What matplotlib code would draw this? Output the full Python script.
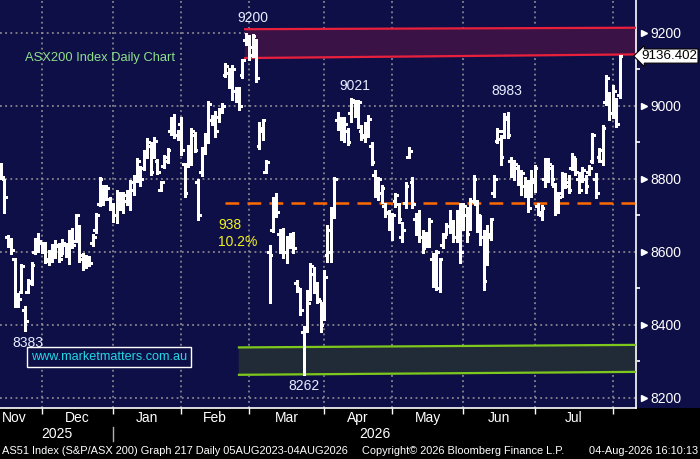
import matplotlib
matplotlib.use("Agg")
import matplotlib.pyplot as plt
import matplotlib.transforms as mtransforms
from matplotlib.patches import Rectangle

plt.rcParams["font.family"] = ["Liberation Sans", "DejaVu Sans"]

# daily OHLC for the ASX200, Nov 2025 - 04 Aug 2026
highs = [8844, 8800, 8646, 8638, 8583, 8487, 8567, 8452, 8526, 8572,
         8638, 8652, 8627, 8627, 8605, 8621, 8632, 8624, 8635, 8624,
         8660, 8665, 8704, 8674, 8597, 8591, 8589, 8649, 8706, 8805,
         8783, 8783, 8750, 8734, 8769, 8764, 8764, 8769, 8797, 8811,
         8857, 8835, 8879, 8912, 8901, 8915, 8854, 8794, 8865, 8885,
         8970, 8978, 8934, 8970, 8841, 8893, 8939, 8928, 8800, 8887,
         8926, 9013, 8975, 8986, 8994, 9008, 9117, 9104, 9112, 9052,
         9052, 9128, 9200, 9194, 9197, 9183, 8956, 8964, 8852, 8619,
         8750, 8761, 8663, 8665, 8643, 8652, 8654, 8523, 8501, 8397,
         8495, 8569, 8558, 8517, 8463, 8550, 8674, 8723, 8805, 8983,
         8969, 8969, 8939, 9021, 9016, 9016, 8947, 8956, 8975, 8901,
         8824, 8805, 8783, 8734, 8715, 8706, 8761, 8734, 8682, 8791,
         8887, 8805, 8706, 8715, 8660, 8654, 8693, 8597, 8605, 8583,
         8652, 8679, 8715, 8687, 8715, 8734, 8734, 8723, 8748, 8810,
         8742, 8701, 8660, 8674, 8693, 8810, 8939, 8920, 8980, 8983,
         8860, 8852, 8838, 8824, 8805, 8797, 8824, 8838, 8734, 8728,
         8857, 8857, 8838, 8789, 8764, 8819, 8816, 8811, 8871, 8857,
         8819, 8832, 8811, 8838, 8926, 8816, 8884, 8948, 9085, 9038,
         9057, 9021, 9140]
lows = [8800, 8707, 8613, 8594, 8449, 8449, 8487, 8383, 8487, 8509,
        8594, 8600, 8597, 8570, 8564, 8572, 8583, 8572, 8594, 8586,
        8567, 8610, 8627, 8572, 8550, 8556, 8561, 8616, 8652, 8726,
        8728, 8742, 8715, 8682, 8679, 8715, 8706, 8728, 8715, 8756,
        8792, 8780, 8824, 8857, 8811, 8857, 8813, 8767, 8830, 8844,
        8920, 8912, 8907, 8865, 8750, 8832, 8838, 8874, 8687, 8808,
        8868, 8898, 8948, 8915, 8956, 8981, 9079, 9049, 9016, 9011,
        8989, 9076, 9167, 9126, 9134, 9066, 8882, 8906, 8816, 8460,
        8654, 8695, 8597, 8583, 8569, 8610, 8597, 8490, 8427, 8262,
        8380, 8468, 8487, 8460, 8380, 8413, 8572, 8572, 8693, 8934,
        8906, 8901, 8893, 8956, 8969, 8939, 8906, 8901, 8915, 8838,
        8750, 8742, 8734, 8695, 8660, 8632, 8723, 8679, 8627, 8720,
        8857, 8720, 8646, 8627, 8597, 8613, 8613, 8504, 8495, 8490,
        8610, 8646, 8652, 8627, 8627, 8570, 8660, 8627, 8660, 8734,
        8654, 8619, 8495, 8564, 8632, 8750, 8898, 8838, 8912, 8912,
        8805, 8797, 8783, 8756, 8750, 8709, 8750, 8764, 8701, 8687,
        8778, 8791, 8783, 8701, 8706, 8750, 8775, 8761, 8824, 8811,
        8761, 8791, 8761, 8811, 8844, 8747, 8846, 8838, 9002, 8961,
        8967, 8942, 9021]
opens = [8810, 8800, 8640, 8630, 8580, 8460, 8490, 8440, 8490, 8515,
         8600, 8620, 8625, 8610, 8575, 8600, 8590, 8615, 8590, 8620,
         8600, 8650, 8630, 8660, 8590, 8565, 8580, 8625, 8660, 8730,
         8780, 8750, 8745, 8725, 8700, 8750, 8725, 8740, 8730, 8770,
         8800, 8830, 8830, 8870, 8890, 8870, 8850, 8770, 8835, 8850,
         8930, 8960, 8920, 8950, 8840, 8840, 8850, 8920, 8790, 8820,
         8875, 8910, 8960, 8960, 8970, 8985, 9085, 9090, 9060, 9040,
         9030, 9085, 9180, 9190, 9140, 9170, 8890, 8930, 8820, 8600,
         8660, 8740, 8650, 8620, 8600, 8620, 8640, 8515, 8495, 8380,
         8395, 8480, 8540, 8500, 8465, 8420, 8590, 8600, 8710, 8960,
         8950, 8930, 8930, 8980, 9010, 8990, 8930, 8920, 8935, 8890,
         8810, 8780, 8760, 8725, 8710, 8670, 8740, 8730, 8640, 8735,
         8860, 8790, 8690, 8700, 8640, 8620, 8630, 8580, 8590, 8500,
         8620, 8650, 8670, 8660, 8640, 8710, 8700, 8700, 8680, 8740,
         8730, 8690, 8640, 8580, 8640, 8760, 8905, 8910, 8930, 8970,
         8850, 8820, 8830, 8790, 8780, 8770, 8760, 8790, 8725, 8700,
         8800, 8800, 8830, 8780, 8720, 8760, 8800, 8790, 8830, 8850,
         8800, 8800, 8800, 8820, 8850, 8800, 8860, 8850, 9010, 9030,
         8980, 9010, 9030]
closes = [8805, 8750, 8630, 8605, 8460, 8470, 8560, 8410, 8520, 8565,
          8615, 8630, 8610, 8580, 8600, 8585, 8620, 8580, 8625, 8600,
          8650, 8620, 8700, 8580, 8560, 8585, 8570, 8640, 8700, 8800,
          8745, 8775, 8725, 8700, 8760, 8725, 8755, 8760, 8790, 8805,
          8850, 8800, 8870, 8900, 8820, 8905, 8820, 8790, 8860, 8880,
          8965, 8920, 8930, 8880, 8760, 8880, 8930, 8880, 8700, 8880,
          8910, 9005, 8970, 8930, 8985, 9000, 9110, 9060, 9100, 9020,
          9000, 9125, 9190, 9160, 9190, 9075, 8940, 8960, 8845, 8590,
          8720, 8710, 8610, 8600, 8640, 8645, 8610, 8500, 8440, 8395,
          8460, 8560, 8510, 8470, 8400, 8530, 8660, 8710, 8800, 8945,
          8920, 8950, 8900, 9015, 8985, 9010, 8915, 8945, 8965, 8845,
          8760, 8800, 8775, 8705, 8670, 8700, 8755, 8690, 8660, 8780,
          8875, 8730, 8660, 8640, 8610, 8645, 8685, 8520, 8600, 8580,
          8640, 8670, 8660, 8640, 8700, 8600, 8725, 8650, 8740, 8800,
          8700, 8640, 8520, 8650, 8690, 8800, 8930, 8860, 8965, 8920,
          8820, 8840, 8790, 8815, 8760, 8720, 8800, 8830, 8710, 8720,
          8850, 8840, 8800, 8720, 8750, 8810, 8780, 8770, 8860, 8820,
          8770, 8825, 8780, 8830, 8920, 8760, 8880, 8940, 9075, 8980,
          9040, 8950, 9136.402]

last_price = 9136.402

# month boundaries in trading-day index, and label positions
month_starts = [12, 33, 53, 73, 95, 115, 136, 157, 180]
month_names = ["Nov", "Dec", "Jan", "Feb", "Mar", "Apr", "May", "Jun", "Jul"]
month_label_pos = [3.8, 22.5, 43, 63, 84, 105, 125.5, 146.5, 168.5]
years = ["2025", "2026"]
year_label_pos = [16.3, 110]
year_split = 33

# annotations
peak_labels = [("9200", 74, 9241), ("9021", 104, 9054), ("8983", 148.8, 9041),
               ("8383", 7.9, 8350), ("8262", 89.1, 8232)]
red_zone = ([71.8, 186.8], [9210, 9214], [9131, 9141])
green_zone = ([70, 186.8], [8338, 8345], [8263, 8271])
support_level = 8734
drop_points = "938"
drop_pct = "10.2%"

NAVY = "#0f0f48"
fig = plt.figure(figsize=(7, 4.59), dpi=100, facecolor="black")
fig.patches.append(Rectangle((0, 1 - 408 / 459), 1, 408 / 459, transform=fig.transFigure,
                             facecolor=NAVY, edgecolor="none", zorder=-10))
ax = fig.add_axes([0, 1 - 408 / 459, 636 / 700, 408 / 459])
ax.set_facecolor(NAVY)
ax.set_xlim(-0.3, 186.8)
ax.set_ylim(8172, 9290)

# grid
for m in month_starts:
    ax.axvline(m, color="#9a9a9a", lw=1.1, ls=(0, (1.2, 2.2)), zorder=1)
for lvl in range(8200, 9201, 200):
    ax.axhline(lvl, color="#9a9a9a", lw=1.1, ls=(0, (1.2, 2.2)), zorder=1)

# shaded zones
xs, top, bot = red_zone
ax.fill_between(xs, bot, top, color="#3a1246", zorder=2)
ax.plot(xs, top, color="#e8203c", lw=1.6, zorder=3)
ax.plot(xs, bot, color="#e8203c", lw=1.6, zorder=3)
xs, top, bot = green_zone
ax.fill_between(xs, bot, top, color="#212b38", zorder=2)
ax.plot(xs, top, color="#7ec81e", lw=1.6, zorder=3)
ax.plot(xs, bot, color="#7ec81e", lw=1.6, zorder=3)

ax.plot([66, 186.8], [support_level, support_level], color="#ff6a00", lw=1.8,
        ls=(0, (5.5, 3.3)), zorder=3)

# OHLC bars
idx = list(range(len(highs)))
bar_style = dict(color="white", lw=0.75, zorder=4, antialiased=False)
ax.vlines(idx, lows, highs, **bar_style)
ax.hlines(opens, [i - 0.8 for i in idx], idx, **bar_style)
ax.hlines(closes, idx, [i + 0.8 for i in idx], **bar_style)

# spines and axes
for s in ("left", "top"):
    ax.spines[s].set_visible(False)
for s in ("right", "bottom"):
    ax.spines[s].set_color("white")
    ax.spines[s].set_linewidth(1.2)
ax.yaxis.tick_right()
ax.set_yticks(range(8200, 9201, 200))
ax.set_yticks(range(8300, 9201, 200), minor=True)
ax.tick_params(axis="y", which="major", length=0, pad=10, labelcolor="white", labelsize=10)
ax.tick_params(axis="y", which="minor", length=3, width=1.2, color="white")
trans = mtransforms.blended_transform_factory(ax.transAxes, ax.transData)
ax.plot([1.012] * 6, list(range(8200, 9201, 200)), ls="none", marker=">", ms=5,
        color="white", transform=trans, clip_on=False, zorder=5)

ax.set_xticks(month_starts)
ax.set_xticklabels([])
ax.tick_params(axis="x", length=4, width=1, color="white", direction="out")
xtrans = mtransforms.blended_transform_factory(ax.transData, fig.transFigure)
for name, pos in zip(month_names, month_label_pos):
    fig.text(pos, 1 - 418 / 459, name, transform=xtrans, color="white", fontsize=10,
             ha="center", va="center")
for name, pos in zip(years, year_label_pos):
    fig.text(pos, 1 - 434 / 459, name, transform=xtrans, color="white", fontsize=10,
             ha="center", va="center")
fig.add_artist(plt.Line2D([year_split, year_split], [1 - 427 / 459, 1 - 441 / 459],
                          transform=xtrans, color="#b0b0b0", lw=1))

# texts
lbl = "#e6eeff"
for t, x, y in peak_labels:
    ax.text(x, y, t, color=lbl, fontsize=10, ha="center", va="center", zorder=6)
ax.text(7, 9130, "ASX200 Index Daily Chart", color="#8ee08a", fontsize=9.3,
        va="center", zorder=6)
ax.text(63.8, 8673, drop_points, color="#f2f21e", fontsize=10, va="center", zorder=6)
ax.text(63.8, 8627, drop_pct, color="#f2f21e", fontsize=10, va="center", zorder=6)
ax.text(8.8, 8311, "www.marketmatters.com.au", color="#22d8e6", fontsize=9.1,
        va="center", zorder=6,
        bbox=dict(boxstyle="square,pad=0.3", fc=NAVY, ec="white", lw=1))
ax.text(1.008, last_price, f"{last_price:.3f}", transform=trans, color="black",
        fontsize=9.6, va="center", ha="left", zorder=7, clip_on=False,
        bbox=dict(boxstyle="larrow,pad=0.08", fc="white", ec="black", lw=0.8))

# footer
foot = dict(color="white", fontsize=7.9, va="center")
fig.text(2 / 700, 1 - 451 / 459, "AS51 Index (S&P/ASX 200) Graph 217 Daily 05AUG2023-04AUG2026",
         **foot)
fig.text(362 / 700, 1 - 451 / 459, "Copyright\u00a9 2026 Bloomberg Finance L.P.", **foot)
fig.text(698 / 700, 1 - 451 / 459, "04-Aug-2026 16:10:13", ha="right", **foot)

fig.savefig("out.png", dpi=100, facecolor="black")
